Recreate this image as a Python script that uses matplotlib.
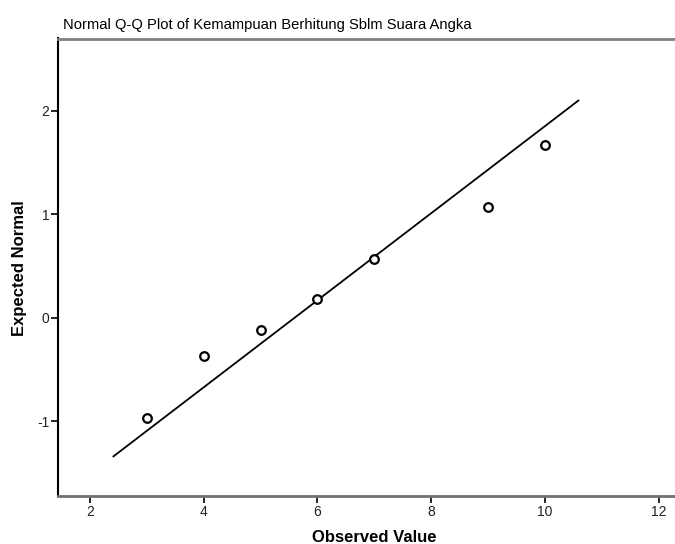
import numpy as np
import matplotlib.pyplot as plt

plt.rcParams['font.family'] = ['Liberation Sans', 'DejaVu Sans']
plt.rcParams['axes.unicode_minus'] = False

# Data
observed = [3, 4, 5, 6, 7, 9, 10]
expected = [-0.97, -0.37, -0.12, 0.18, 0.57, 1.07, 1.67]
line_x = [2.41, 10.59]
line_y = [-1.34, 2.10]

x_ticks = [2, 4, 6, 8, 10, 12]
y_ticks = [-1, 0, 1, 2]

fig = plt.figure(figsize=(6.75, 5.44), dpi=100)
ax = fig.add_axes([58.3 / 675, 48.3 / 544, 1 - 58.3 / 675, (495.7 - 38.5) / 544])

ax.plot(line_x, line_y, color='black', linewidth=1.3)
ax.plot(observed, expected, 'o', markerfacecolor='white', markeredgecolor='black',
        markersize=6.2, markeredgewidth=1.6, linestyle='none')

ax.set_xlim(1.44, 12.29)
ax.set_ylim(-1.72, 2.70)
ax.set_xticks(x_ticks)
ax.set_yticks(y_ticks)
ax.tick_params(axis='both', labelsize=10, length=5, width=1.2, colors='black',
               labelcolor='#222222', pad=1.5)

ax.spines['right'].set_visible(False)
ax.spines['left'].set_color('black')
ax.spines['left'].set_linewidth(1.5)
ax.spines['bottom'].set_color('#707070')
ax.spines['bottom'].set_linewidth(2)
ax.spines['top'].set_color('#808080')
ax.spines['top'].set_linewidth(2)

fig.text(267.5 / 675, 1 - 25 / 544, 'Normal Q-Q Plot of Kemampuan Berhitung Sblm Suara Angka',
         ha='center', va='center', fontsize=10.6)
fig.text(374.5 / 675, 1 - 537 / 544, 'Observed Value', ha='center', va='center',
         fontsize=12, fontweight='bold')
fig.text(20 / 675, 1 - 268 / 544, 'Expected Normal', ha='center', va='center',
         fontsize=12, fontweight='bold', rotation=90)

fig.savefig('out.png', dpi=100)
